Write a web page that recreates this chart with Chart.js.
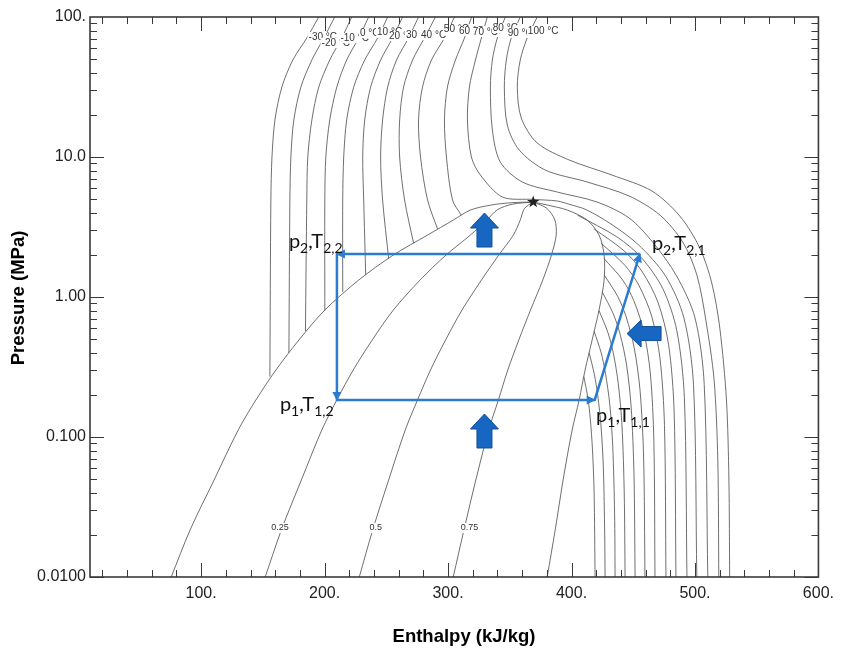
<!DOCTYPE html>
<html>
<head>
<meta charset="utf-8">
<script src="https://cdn.jsdelivr.net/npm/chart.js@4.4.1/dist/chart.umd.min.js"></script>
<style>
  html, body { margin: 0; padding: 0; background: #fff; }
  canvas { display: block; }
</style>
</head>
<body>
<canvas id="phChart" width="841" height="653"></canvas>
<script>
// ticks
const xTicks = [100, 200, 300, 400, 500, 600];
const yTicks = [0.01, 0.1, 1, 10, 100];
const yTickText = ['0.0100', '0.100', '1.00', '10.0', '100.'];

// saturation dome and quality lines, [h (kJ/kg), p (MPa)]
const satLiquid = [[75.8,0.01],[91.1,0.0217],[110.5,0.0493],[130.0,0.112],[144.4,0.184],[160.6,0.301],[179.2,0.493],[200.2,0.807],[227.6,1.32],[255.9,2.0],[283.4,2.77],[304.4,3.55],[318.1,4.18],[335.1,4.54],[352,4.72],[369,4.77]];
const satVapor = [[369,4.77],[380.3,4.54],[396.5,4.18],[412.6,3.55],[422.3,2.77],[426.4,2.0],[426.4,1.32],[422.3,0.807],[416.7,0.493],[411,0.301],[406.2,0.184],[400.5,0.112],[393.2,0.0493],[386.8,0.0217],[380.3,0.01]];
const quality25 = [[151.9,0.01],[165.0,0.0217],[181.2,0.0493],[197.7,0.112],[209.9,0.184],[223.2,0.301],[238.6,0.493],[255.7,0.807],[277.3,1.32],[298.5,2.0],[318.1,2.77],[331.5,3.55],[340,4.2],[352,4.6],[369,4.77]];
const quality50 = [[228.1,0.01],[239.0,0.0217],[251.9,0.0493],[265.3,0.112],[275.3,0.184],[285.8,0.301],[298.0,0.493],[311.3,0.807],[327.0,1.32],[341.2,2.0],[352.9,2.77],[358.5,3.55],[362,4.3],[369,4.77]];
const quality75 = [[304.2,0.01],[312.9,0.0217],[322.5,0.0493],[332.9,0.112],[340.8,0.184],[348.4,0.301],[357.3,0.493],[366.8,0.807],[376.7,1.32],[383.8,2.0],[387.6,2.77],[386.5,3.55],[380,4.3],[369,4.77]];
const criticalPoint = [369, 4.77];

// isotherms, liquid side (from the dome upwards)
const liqM30 = [[155.7,0.27],[156.5,4.93],[157.4,10],[159.8,18.4],[165.4,31.6],[174.3,49.3],[185.6,70.8],[195.3,100]];
const liqM20 = [[171.1,0.40],[171.9,4.93],[172.7,10],[175.1,18.4],[180.8,31.6],[189.7,49.3],[199.4,70.8],[208.2,100]];
const liqM10 = [[184.5,0.57],[185.6,4.93],[186.4,10],[189.7,18.4],[195.3,31.6],[204.2,49.3],[213.9,70.8],[222.0,100]];
const liq0 = [[200.2,0.80],[200.2,4.93],[201.0,10],[204.2,18.4],[209.9,31.6],[217.9,49.3],[227.6,70.8],[235.7,100]];
const liq10 = [[214.7,1.09],[214.7,4.93],[215.5,10],[217.9,18.4],[223.6,31.6],[232.5,49.3],[243.0,70.8],[251.1,100]];
const liq20 = [[233.3,1.44],[231.7,4.93],[230.9,10],[232.5,18.4],[237.3,31.6],[245.4,49.3],[255.1,70.8],[263.2,100]];
const liq30 = [[251.9,1.88],[247.0,4.93],[245.4,10],[247.0,18.4],[251.1,31.6],[258.3,49.3],[268.0,70.8],[276.1,100]];
const liq40 = [[272.1,2.42],[264.8,4.93],[260.8,10],[260.8,18.4],[264.0,31.6],[271.3,49.3],[280.9,70.8],[289.8,100]];
const liq50 = [[291.5,3.06],[283.4,4.93],[277.7,10],[276.1,18.4],[279.3,31.6],[286.6,49.3],[297.1,70.8],[305.2,100]];
const liq60 = [[310.8,3.84],[303.6,4.93],[298.7,10],[297.1,18.4],[299.5,31.6],[306.0,49.3],[313.3,70.8],[319.0,100]];

// isotherms, vapour side (from the dome downwards)
const vapM30 = [[410.0,0.27],[413.3,0.189],[415.2,0.135],[417.0,0.081],[418.3,0.0405],[419.1,0.01]];
const vapM20 = [[414.3,0.40],[418.5,0.28],[421.2,0.20],[423.9,0.12],[425.8,0.06],[426.9,0.02],[427.2,0.01]];
const vapM10 = [[418.3,0.57],[424.0,0.40],[427.5,0.285],[431.0,0.171],[433.4,0.0855],[434.9,0.0285],[435.3,0.01]];
const vap0 = [[422.3,0.80],[429.4,0.56],[433.8,0.40],[437.9,0.24],[440.9,0.12],[442.7,0.04],[443.4,0.01]];
const vap10 = [[424.8,1.09],[433.7,0.763],[439.3,0.545],[444.6,0.327],[448.3,0.164],[450.6,0.0545],[451.5,0.01]];
const vap20 = [[426.4,1.44],[437.4,1.01],[444.3,0.72],[450.8,0.432],[455.5,0.216],[458.4,0.072],[459.5,0.01]];
const vap30 = [[426.4,1.88],[441.5,1.32],[450.5,0.94],[458.6,0.564],[463.9,0.282],[466.7,0.094],[467.6,0.01]];
const vap40 = [[424.0,2.42],[443.1,1.69],[454.6,1.21],[465.0,0.726],[471.7,0.363],[475.3,0.121],[476.5,0.01]];
const vap50 = [[418.4,3.06],[442.5,2.14],[457.0,1.53],[470.0,0.918],[478.6,0.459],[483.1,0.153],[484.6,0.01]];
const vap60 = [[404.9,3.84],[437.0,2.68],[456.4,1.92],[473.9,1.15],[485.3,0.575],[491.4,0.192],[493.5,0.01]];

// near- and super-critical isotherms (one piece each)
const iso70 = [[331.8,100],[327.0,70.8],[322.2,49.3],[317.3,31.6],[315.7,18.4],[318.9,10],[326.2,7.43],[344.0,5.18],[369.0,4.98],[388.4,4.85],[398,4.6],[412,4.2],[432,3.32],[454,2.37],[476,1.42],[491,0.711],[498.8,0.237],[501.5,0.01]];
const iso80 = [[346.4,100],[339.9,70.8],[335.9,49.3],[334.3,31.6],[335.9,15.6],[342.3,9.21],[360.1,6.63],[388.4,5.62],[420.7,4.77],[446.6,3.67],[466,2.45],[485,1.42],[500,0.711],[507.5,0.237],[510.4,0.01]];
const iso90 = [[358.5,100],[351.2,70.8],[347.2,49.3],[345.6,31.6],[348.0,16.9],[357.7,11.2],[378.7,8.07],[412.6,6.63],[446.6,5.27],[471.6,3.85],[490.1,2.47],[501.5,1.44],[508.8,0.685],[515.5,0.255],[518.5,0.0685],[519.3,0.01]];
const iso100 = [[372.2,100],[364.1,70.8],[358.5,49.3],[356.1,31.6],[359.3,19.0],[372.2,12.6],[398.1,9.52],[432.8,7.43],[465.1,5.72],[487.7,3.79],[503.9,2.24],[513.6,1.26],[520.1,0.601],[525.5,0.184],[527.5,0.0493],[528.1,0.01]];

const isoTemps = [-30, -20, -10, 0, 10, 20, 30, 40, 50, 60, 70, 80, 90, 100];

// refrigeration cycle, in drawing order
const cycleH = [455.4, 210.0, 210.0, 418.8, 455.4];
const cycleP = [2.03, 2.03, 0.184, 0.184, 2.03];

const grayLines = [satLiquid, satVapor, quality25, quality50, quality75,
  liqM30, liqM20, liqM10, liq0, liq10, liq20, liq30, liq40, liq50, liq60,
  vapM30, vapM20, vapM10, vap0, vap10, vap20, vap30, vap40, vap50, vap60,
  iso70, iso80, iso90, iso100];

const cycleColor = '#2b7bd0';
const arrowFill = '#1766c2';

// where the annotations sit, in chart units
const isoLabelAt = [[192.9,71.9],[203.4,65.2],[218.7,70.8],[230.9,76.9],[247.0,78.1],[256.7,73.1],[270.4,74.3],[282.6,74.3],[301.1,82.0],[313.3,79.4],[324.6,78.1],[340.7,83.4],[352.8,76.9],[371.4,79.4]];
const qualityLabels = [['0.25', 163.8], ['0.5', 241.4], ['0.75', 317.3]];
const qualityLabelP = 0.0224;
const bigArrows = [
  {h: 329.5, p: 3.98, dir: 'up'},
  {h: 329.5, p: 0.146, dir: 'up'},
  {h: 445.0, p: 0.548, dir: 'left'}
];
const stateLabels = [
  {h: 171.1, p: 2.24, parts: [['p', 0], ['2', 1], [',T', 0], ['2,2', 1]]},
  {h: 465.1, p: 2.17, parts: [['p', 0], ['2', 1], [',T', 0], ['2,1', 1]]},
  {h: 163.8, p: 0.1535, parts: [['p', 0], ['1', 1], [',T', 0], ['1,2', 1]]},
  {h: 419.9, p: 0.127, parts: [['p', 0], ['1', 1], [',T', 0], ['1,1', 1]]}
];

function blockArrow(ctx, tx, ty, dir) {
  ctx.beginPath();
  if (dir === 'up') {
    ctx.moveTo(tx, ty);
    ctx.lineTo(tx + 14, ty + 15);
    ctx.lineTo(tx + 7.5, ty + 15);
    ctx.lineTo(tx + 7.5, ty + 34);
    ctx.lineTo(tx - 7.5, ty + 34);
    ctx.lineTo(tx - 7.5, ty + 15);
    ctx.lineTo(tx - 14, ty + 15);
  } else {
    ctx.moveTo(tx, ty);
    ctx.lineTo(tx + 14, ty - 13.5);
    ctx.lineTo(tx + 14, ty - 7);
    ctx.lineTo(tx + 34, ty - 7);
    ctx.lineTo(tx + 34, ty + 7);
    ctx.lineTo(tx + 14, ty + 7);
    ctx.lineTo(tx + 14, ty + 13.5);
  }
  ctx.closePath();
  ctx.fillStyle = arrowFill;
  ctx.fill();
  ctx.strokeStyle = '#0f4f96';
  ctx.lineWidth = 1;
  ctx.stroke();
}

function subText(ctx, x, y, parts) {
  let cx = x;
  parts.forEach(([t, sub]) => {
    ctx.font = sub ? '14px Lato' : '20px Lato';
    ctx.fillText(t, cx, sub ? y + 5 : y);
    cx += ctx.measureText(t).width;
  });
}

function star(ctx, cx, cy, r1, r2) {
  ctx.beginPath();
  for (let i = 0; i < 10; i++) {
    const r = i % 2 ? r2 : r1;
    const a = -Math.PI / 2 + i * Math.PI / 5;
    ctx.lineTo(cx + r * Math.cos(a), cy + r * Math.sin(a));
  }
  ctx.closePath();
  ctx.fill();
}

const decor = {
  id: 'decor',
  afterDatasetsDraw(chart) {
    const {ctx, chartArea: a, scales: {x, y}} = chart;
    const X = v => x.getPixelForValue(v);
    const Y = v => y.getPixelForValue(v);
    ctx.save();

    // small heads at the end of every cycle leg
    ctx.fillStyle = cycleColor;
    for (let i = 1; i < cycleH.length; i++) {
      const x0 = X(cycleH[i - 1]), y0 = Y(cycleP[i - 1]);
      const x1 = X(cycleH[i]), y1 = Y(cycleP[i]);
      ctx.save();
      ctx.translate(x1, y1);
      ctx.rotate(Math.atan2(y1 - y0, x1 - x0));
      ctx.beginPath();
      ctx.moveTo(1, 0);
      ctx.lineTo(-8, -4.5);
      ctx.lineTo(-8, 4.5);
      ctx.closePath();
      ctx.fill();
      ctx.restore();
    }

    bigArrows.forEach(b => blockArrow(ctx, X(b.h), Y(b.p), b.dir));

    // critical point
    ctx.fillStyle = '#222';
    star(ctx, X(criticalPoint[0]), Y(criticalPoint[1]), 6.5, 2.6);

    // isotherm labels
    ctx.font = '10px "Liberation Sans"';
    ctx.textBaseline = 'middle';
    isoTemps.forEach((t, i) => {
      const num = String(t);
      const w = ctx.measureText(num).width;
      const lx = X(isoLabelAt[i][0]) - w / 2, ly = Y(isoLabelAt[i][1]);
      const full = num + ' \u00b0C';
      const fw = ctx.measureText(full).width;
      ctx.fillStyle = '#fff';
      ctx.fillRect(lx - 1, ly - 5, fw + 2, 10);
      ctx.fillStyle = '#333';
      ctx.fillText(full, lx, ly);
    });

    // quality labels
    ctx.font = '9px "Liberation Sans"';
    qualityLabels.forEach(([txt, h]) => {
      const w = ctx.measureText(txt).width;
      const lx = X(h) - w / 2, ly = Y(qualityLabelP);
      ctx.fillStyle = '#fff';
      ctx.fillRect(lx - 1, ly - 5, w + 2, 10);
      ctx.fillStyle = '#333';
      ctx.fillText(txt, lx, ly);
    });

    // state point labels
    ctx.textBaseline = 'alphabetic';
    ctx.fillStyle = '#111';
    stateLabels.forEach(s => subText(ctx, X(s.h), Y(s.p), s.parts));

    // frame and inward ticks
    ctx.strokeStyle = '#3a3a3a';
    ctx.lineWidth = 1;
    ctx.beginPath();
    for (let v = 20; v < 600; v += 20) {
      const px = Math.round(X(v)) + 0.5;
      const len = v % 100 === 0 ? 14 : 7;
      ctx.moveTo(px, a.bottom); ctx.lineTo(px, a.bottom - len);
      ctx.moveTo(px, a.top); ctx.lineTo(px, a.top + len);
    }
    [0.01, 0.1, 1, 10].forEach(d => {
      for (let m = 1; m <= 9; m++) {
        const py = Math.round(Y(m * d)) + 0.5;
        const len = m === 1 ? 14 : 7;
        ctx.moveTo(a.left, py); ctx.lineTo(a.left + len, py);
        ctx.moveTo(a.right, py); ctx.lineTo(a.right - len, py);
      }
    });
    ctx.stroke();
    ctx.lineWidth = 1.6;
    ctx.strokeRect(a.left, a.top, a.right - a.left, a.bottom - a.top);

    // axis titles
    ctx.fillStyle = '#000';
    ctx.font = 'bold 18.5px "Liberation Sans"';
    ctx.textAlign = 'center';
    ctx.textBaseline = 'middle';
    ctx.fillText('Enthalpy (kJ/kg)', 464, 637);
    ctx.translate(19, 298);
    ctx.rotate(-Math.PI / 2);
    ctx.fillText('Pressure (MPa)', 0, 0);
    ctx.restore();
  }
};

const datasets = grayLines.map(arr => ({
  data: arr.map(([h, p]) => ({x: h, y: p})),
  showLine: true,
  borderColor: '#555',
  borderWidth: 0.85,
  pointRadius: 0,
  tension: 0.3,
  fill: false
}));
datasets.unshift({
  data: cycleH.map((h, i) => ({x: h, y: cycleP[i]})),
  showLine: true,
  borderColor: cycleColor,
  borderWidth: 2.5,
  pointRadius: 0,
  tension: 0,
  order: -1
});

new Chart(document.getElementById('phChart'), {
  type: 'scatter',
  data: {datasets: datasets},
  options: {
    responsive: false,
    animation: false,
    layout: {padding: {left: 0, right: 19, top: 17, bottom: 0}},
    plugins: {legend: {display: false}, tooltip: {enabled: false}},
    scales: {
      x: {
        type: 'linear', min: 10, max: 600,
        afterBuildTicks: s => { s.ticks = xTicks.map(v => ({value: v})); },
        afterFit: s => { s.height = 76; },
        grid: {display: false, drawTicks: false},
        border: {display: false},
        ticks: {
          callback: v => v + '.',
          font: {family: 'Liberation Sans', size: 16},
          color: '#222', padding: 7, maxRotation: 0, autoSkip: false
        }
      },
      y: {
        type: 'logarithmic', min: 0.01, max: 100,
        afterBuildTicks: s => { s.ticks = yTicks.map(v => ({value: v})); },
        afterFit: s => { s.width = 90; },
        grid: {display: false, drawTicks: false},
        border: {display: false},
        ticks: {
          callback: v => yTickText[yTicks.indexOf(v)],
          font: {family: 'Liberation Sans', size: 16},
          color: '#222', padding: 4, autoSkip: false
        }
      }
    }
  },
  plugins: [decor]
});
</script>
</body>
</html>
